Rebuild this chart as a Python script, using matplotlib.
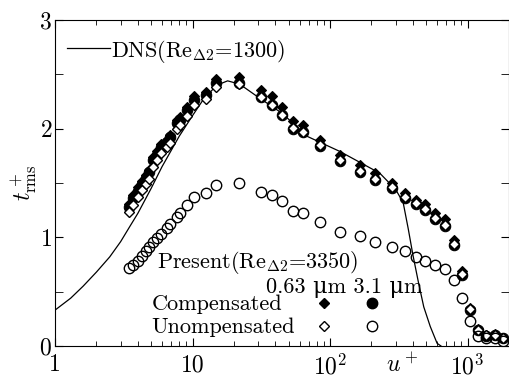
import numpy as np
import matplotlib
matplotlib.use('Agg')
import matplotlib.pyplot as plt

# Fonts: Computer Modern look
plt.rcParams['font.family'] = ['cmr10', 'DejaVu Serif']
plt.rcParams['mathtext.fontset'] = 'cm'
plt.rcParams['axes.unicode_minus'] = False
plt.rcParams['axes.formatter.use_mathtext'] = True

# Data
u_plus = [3.47, 3.71, 3.99, 4.27, 4.57, 4.85, 5.19, 5.49, 5.90, 6.47,
          6.85, 7.75, 8.10, 9.17, 10.26, 12.5, 14.8, 21.9, 31.3, 38.1,
          45.0, 54.1, 64.0, 84.6, 118, 165, 212, 280, 349, 423,
          491, 580, 686, 798, 908, 1043, 1200, 1363, 1585, 1810]

comp_063 = [1.31, 1.39, 1.46, 1.52, 1.57, 1.62, 1.74, 1.79, 1.86, 1.90,
            1.94, 2.08, 2.11, 2.20, 2.30, 2.34, 2.46, 2.48, 2.36, 2.30,
            2.20, 2.07, 2.03, 1.90, 1.76, 1.67, 1.59, 1.50, 1.41, 1.34,
            1.31, 1.22, 1.17, 0.98, 0.69, 0.35, 0.16, 0.10, 0.11, 0.07]

comp_31 = [1.28, 1.36, 1.43, 1.49, 1.55, 1.60, 1.71, 1.76, 1.83, 1.88,
           1.92, 2.05, 2.08, 2.17, 2.26, 2.31, 2.42, 2.42, 2.29, 2.22,
           2.13, 2.00, 1.97, 1.84, 1.70, 1.60, 1.53, 1.45, 1.36, 1.31,
           1.25, 1.17, 1.10, 0.93, 0.65, 0.33, 0.15, 0.09, 0.10, 0.07]

uncomp_063 = [1.23, 1.30, 1.37, 1.44, 1.49, 1.54, 1.65, 1.71, 1.78, 1.83,
              1.87, 2.00, 2.03, 2.12, 2.22, 2.27, 2.38, 2.41, 2.29, 2.22,
              2.13, 2.01, 1.97, 1.85, 1.71, 1.61, 1.54, 1.46, 1.37, 1.32,
              1.26, 1.18, 1.11, 0.94, 0.66, 0.34, 0.15, 0.10, 0.10, 0.07]

uncomp_31 = [0.715, 0.745, 0.785, 0.83, 0.87, 0.91, 0.96, 0.99, 1.03, 1.09,
             1.12, 1.19, 1.22, 1.30, 1.37, 1.41, 1.48, 1.50, 1.42, 1.39,
             1.33, 1.24, 1.22, 1.14, 1.05, 1.01, 0.96, 0.91, 0.87, 0.82,
             0.78, 0.745, 0.705, 0.61, 0.44, 0.23, 0.09, 0.07, 0.07, 0.05]

dns_u = [1, 1.3, 1.6, 2.0, 2.5, 3.0, 3.5, 4.0, 5.0, 6.0, 7.0, 8.0, 10, 12,
         15, 18, 22, 30, 45, 68, 118, 230, 300, 340, 370, 400, 440, 480,
         535, 600, 640]
dns_t = [0.33, 0.44, 0.55, 0.68, 0.82, 0.96, 1.10, 1.22, 1.45, 1.65, 1.80,
         1.93, 2.12, 2.27, 2.40, 2.44, 2.41, 2.29, 2.14, 1.93, 1.79, 1.59,
         1.44, 1.32, 1.08, 0.84, 0.58, 0.36, 0.18, 0.025, 0.0]

xticks = [1, 10, 100, 1000]
xtick_labels = ['1', '10', '$10^2$', '$10^3$']
yticks = [0, 1, 2, 3]

fig = plt.figure(figsize=(5.10, 3.78), dpi=100)
ax = fig.add_axes([55/510, 1 - 346/378, 454/510, 326/378])

ax.plot(dns_u, dns_t, color='black', lw=0.9)
ax.plot(u_plus, comp_31, 'o', color='black', ms=7.5, mew=0.8)
ax.plot(u_plus, comp_063, 'D', color='black', ms=5, mew=0.8)
ax.plot(u_plus, uncomp_063, 'D', mfc='white', mec='black', ms=5, mew=1.0)
ax.plot(u_plus, uncomp_31, 'o', mfc='none', mec='black', ms=7.5, mew=1.0)

ax.set_xscale('log')
ax.set_xlim(1, 2000)
ax.set_ylim(0, 3)
ax.set_xticks(xticks)
ax.set_xticklabels(xtick_labels)
ax.set_yticks(yticks)
ax.set_yticks(np.arange(0, 3.01, 0.5), minor=True)
ax.tick_params(which='both', direction='in', top=True, right=True, labelsize=17)
ax.tick_params(which='major', length=6, pad=2)
ax.tick_params(which='minor', length=3.5)
ax.tick_params(axis='y', which='minor', length=6)
ax.tick_params(axis='x', which='major', pad=6)

ax.set_ylabel(r'$t^+_{\rm rms}$', fontsize=17, labelpad=0)
ax.text(334, -0.02, r'$u^+$', fontsize=17, ha='center', va='top',
        transform=ax.get_xaxis_transform())

# legend-like annotations
ax.plot([0.026, 0.121], [0.914, 0.914], color='black', lw=0.9,
        transform=ax.transAxes)
ax.text(0.124, 0.886, r'DNS(Re$_{\mathit{\Delta}2}$=1300)', fontsize=16,
        transform=ax.transAxes, va='baseline')
ax.text(0.224, 0.238, r'Present(Re$_{\mathit{\Delta}2}$=3350)', fontsize=16,
        transform=ax.transAxes, va='baseline')
ax.text(0.465, 0.162, '0.63 \u03bcm 3.1 \u03bcm', fontsize=16,
        transform=ax.transAxes, va='baseline')
ax.text(0.213, 0.110, 'Compensated', fontsize=16,
        transform=ax.transAxes, va='baseline')
ax.text(0.213, 0.039, 'Unompensated', fontsize=16,
        transform=ax.transAxes, va='baseline')
ax.plot([0.5925], [0.132], 'D', color='black', ms=5, transform=ax.transAxes)
ax.plot([0.698], [0.132], 'o', color='black', ms=7.5, transform=ax.transAxes)
ax.plot([0.5925], [0.061], 'D', mfc='white', mec='black', ms=5, mew=1.0,
        transform=ax.transAxes)
ax.plot([0.698], [0.061], 'o', mfc='none', mec='black', ms=7.5, mew=1.0,
        transform=ax.transAxes)

plt.savefig('out.png', dpi=100)
